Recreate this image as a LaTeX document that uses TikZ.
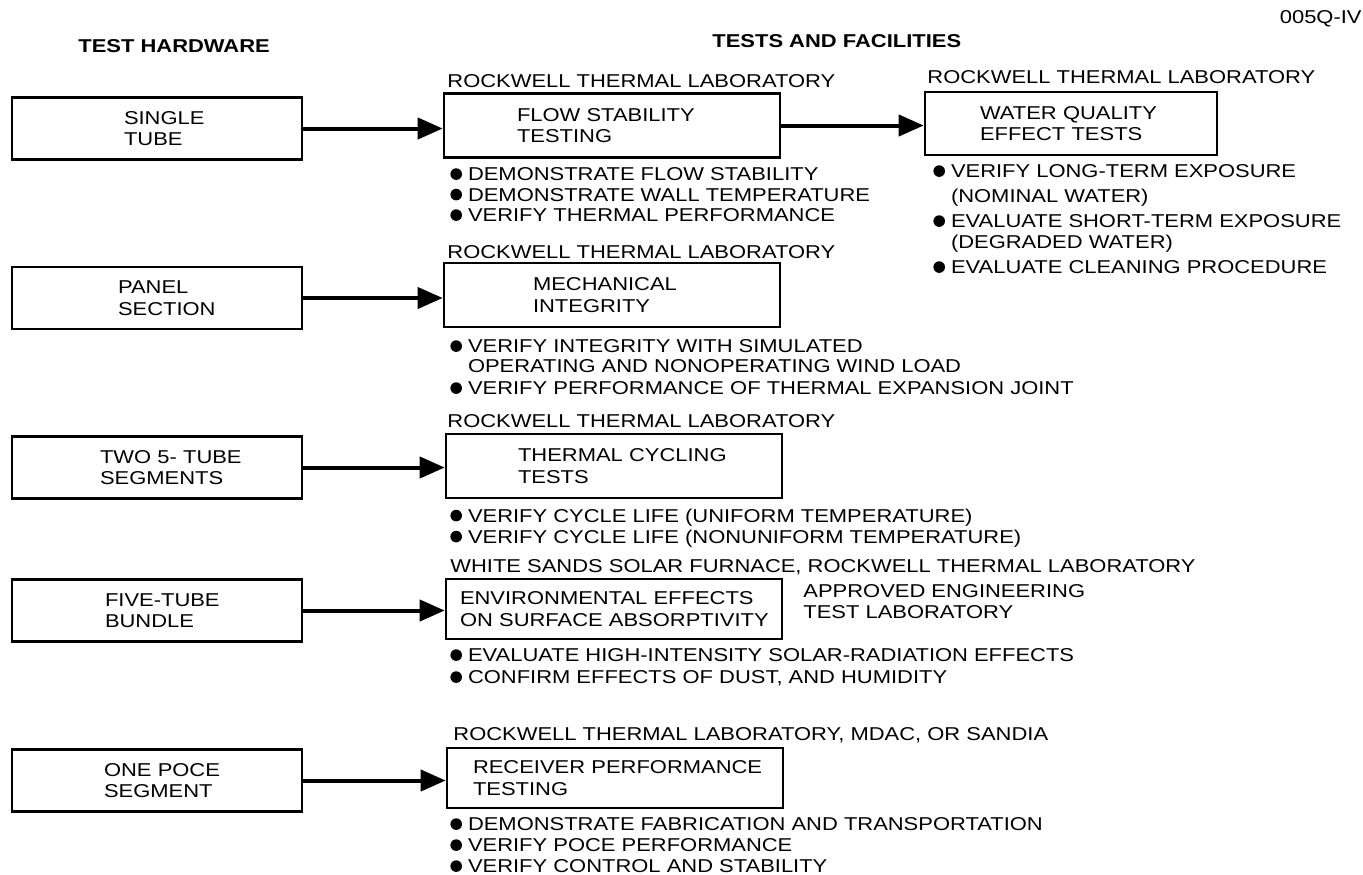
\documentclass[tikz,border=0pt]{standalone}
\usepackage{fontspec}
\setmainfont{Liberation Sans}[FakeStretch=1.18]
\usetikzlibrary{arrows.meta, positioning}

\newcommand{\lblfont}{\fontsize{9.3}{10.75}\selectfont}
\newcommand{\bul}{\tikz[baseline=-3.3pt]\fill (0,0) circle (2.9pt);\hspace{3pt}}
\newcommand{\nobul}{\phantom{\bul}}

\begin{document}
\begin{tikzpicture}[x=0.5pt,y=-0.5pt,>={Triangle[length=12.5pt,width=10.5pt]},font=\lblfont,
  hwbox/.style={draw, line width=1.3pt, text width=145pt, minimum height=31pt, inner sep=0pt, align=left, execute at begin node={\leftskip=#1}},
  testbox/.style={draw, line width=1.3pt, text width=168pt, minimum height=32pt, inner sep=0pt, align=left, execute at begin node={\leftskip=#1}},
  site/.style={anchor=base west, inner sep=0pt},
  list/.style={anchor=north west, inner sep=0pt, align=left, font=\fontsize{9.3}{#1}\selectfont},
  list/.default=10.5pt,
  feed/.style={->, line width=2pt}]
  \useasboundingbox (0,0) rectangle (1363,874);
  % column heads
  \node[site, font=\lblfont\bfseries] (hwhead) at (78,52) {TEST HARDWARE};
  \node[site, font=\lblfont\bfseries] (tfhead) at (712,47) {TESTS AND FACILITIES};
  \node[anchor=base east, inner sep=0pt] (figno) at (1362,23) {005Q-IV};
  % test hardware
  \node[hwbox=56pt] (tube) at (157,128.5) {SINGLE\\TUBE};
  \node[hwbox=53pt] (panel) at (157,298) {PANEL\\SECTION};
  \node[hwbox=44pt] (seg) at (157,467.5) {TWO 5- TUBE\\SEGMENTS};
  \node[hwbox=46.5pt] (bundle) at (157,610.5) {FIVE-TUBE\\BUNDLE};
  \node[hwbox=46pt] (poce) at (157,780.5) {ONE POCE\\SEGMENT};
  % tests
  \node[testbox=36.5pt] (flow) at (612,125.5) {FLOW STABILITY\\TESTING};
  \node[testbox=27.5pt, text width=146pt, minimum height=31.5pt] (water) at (1071,123.5) {WATER QUALITY\\EFFECT TESTS};
  \node[testbox=44.5pt] (mech) at (612,295) {MECHANICAL\\INTEGRITY};
  \node[testbox=36pt] (cyc) at (614,466) {THERMAL CYCLING\\TESTS};
  \node[testbox=7pt, minimum height=30pt] (env) at (614,609) {ENVIRONMENTAL EFFECTS\\ON SURFACE ABSORPTIVITY};
  \node[testbox=13pt, minimum height=30pt] (recv) at (615,778) {RECEIVER PERFORMANCE\\TESTING};
  % facilities
  \node[site] (flowsite) at (447,87) {ROCKWELL THERMAL LABORATORY};
  \node[site] (watersite) at (927,83) {ROCKWELL THERMAL LABORATORY};
  \node[site] (mechsite) at (447,258) {ROCKWELL THERMAL LABORATORY};
  \node[site] (cycsite) at (447,427) {ROCKWELL THERMAL LABORATORY};
  \node[site] (envsite) at (450,572) {WHITE SANDS SOLAR FURNACE, ROCKWELL THERMAL LABORATORY};
  \node[site] (recvsite) at (453,740) {ROCKWELL THERMAL LABORATORY, MDAC, OR SANDIA};
  \node[list] (approved) at (803,584.5) {APPROVED ENGINEERING\\TEST LABORATORY};
  % objectives
  \node[list=10.25pt] (flowlist) at (450,167.3) {\bul DEMONSTRATE FLOW STABILITY\\\bul DEMONSTRATE WALL TEMPERATURE\\\bul VERIFY THERMAL PERFORMANCE};
  \node[list] (waterlist) at (933,164.3) {\bul VERIFY LONG-TERM EXPOSURE\\[2pt]\nobul (NOMINAL WATER)\\[2pt]\bul EVALUATE SHORT-TERM EXPOSURE\\\nobul (DEGRADED WATER)\\[2pt]\bul EVALUATE CLEANING PROCEDURE};
  \node[list=10pt] (mechlist) at (450,339.3) {\bul VERIFY INTEGRITY WITH SIMULATED\\\nobul OPERATING AND NONOPERATING WIND LOAD\\[1pt]\bul VERIFY PERFORMANCE OF THERMAL EXPANSION JOINT};
  \node[list] (cyclist) at (450,508.3) {\bul VERIFY CYCLE LIFE (UNIFORM TEMPERATURE)\\\bul VERIFY CYCLE LIFE (NONUNIFORM TEMPERATURE)};
  \node[list=11pt] (envlist) at (450,648.3) {\bul EVALUATE HIGH-INTENSITY SOLAR-RADIATION EFFECTS\\\bul CONFIRM EFFECTS OF DUST, AND HUMIDITY};
  \node[list] (recvlist) at (450,817.3) {\bul DEMONSTRATE FABRICATION AND TRANSPORTATION\\\bul VERIFY POCE PERFORMANCE\\\bul VERIFY CONTROL AND STABILITY};
  % feeds
  \draw[feed] (tube.east) -- (tube.east -| flow.west);
  \draw[feed] (flow.east) -- (flow.east -| water.west);
  \draw[feed] (panel.east) -- (panel.east -| mech.west);
  \draw[feed] (seg.east) -- (seg.east -| cyc.west);
  \draw[feed] (bundle.east) -- (bundle.east -| env.west);
  \draw[feed] (poce.east) -- (poce.east -| recv.west);
\end{tikzpicture}
\end{document}
